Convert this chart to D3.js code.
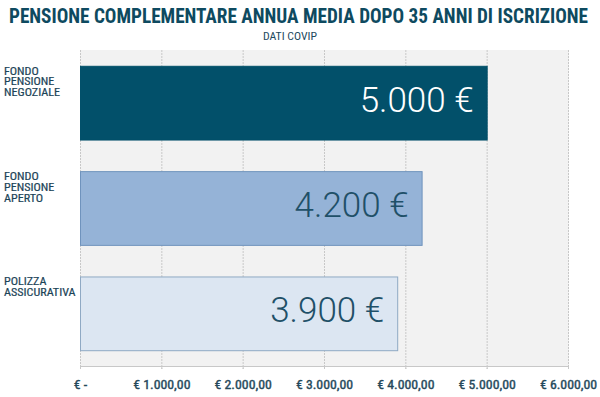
<!DOCTYPE html>
<html><head><meta charset="utf-8">
<script src="https://cdn.jsdelivr.net/npm/d3@7"></script>
<style>
html,body{margin:0;padding:0;background:#fff;}
svg{display:block;}
.cond{font-family:"Liberation Sans Narrow","Roboto Condensed","DejaVu Sans",sans-serif;font-stretch:condensed;}
</style></head>
<body>
<svg id="chart" width="600" height="397"></svg>
<script>
const categories = [["FONDO","PENSIONE","NEGOZIALE"],["FONDO","PENSIONE","APERTO"],["POLIZZA","ASSICURATIVA"]];
const values = [5000, 4200, 3900];
const valueLabels = ["5.000 €", "4.200 €", "3.900 €"];
const tickValues = [0, 1000, 2000, 3000, 4000, 5000, 6000];
const tickLabels = ["€ -", "€ 1.000,00", "€ 2.000,00", "€ 3.000,00", "€ 4.000,00", "€ 5.000,00", "€ 6.000,00"];
const barColors = ["#02506a", "#95b3d7", "#dce6f2"];
const textColors = ["#ffffff", "#1f5068", "#1f5068"];
const strokeColors = ["#02506a", "#6f93bd", "#8fa9c4"];

const svg = d3.select("#chart");
const mLeft = 80, mRight = 568, mTop = 50, mBottom = 366;
const x = d3.scaleLinear().domain([0, 6000]).range([mLeft, mRight]);
const y = d3.scaleBand().domain(d3.range(values.length)).range([mTop, mBottom]).paddingInner(0.3).paddingOuter(0.15);

function widen(sel, f) {
  sel.each(function() {
    const w = this.getComputedTextLength();
    d3.select(this).attr("textLength", w * f).attr("lengthAdjust", "spacingAndGlyphs");
  });
}

// title
svg.append("text").attr("class","cond").attr("x",9).attr("y",23)
  .attr("textLength",579).attr("lengthAdjust","spacingAndGlyphs")
  .attr("font-size",20).attr("font-weight","bold").attr("fill","#0e4a60")
  .text("PENSIONE COMPLEMENTARE ANNUA MEDIA DOPO 35 ANNI DI ISCRIZIONE");
svg.append("text").attr("class","cond").attr("x",263).attr("y",40)
  .attr("textLength",54).attr("lengthAdjust","spacingAndGlyphs")
  .attr("font-size",11.5).attr("fill","#1e4a5e")
  .text("DATI COVIP");

// plot background
svg.append("rect").attr("x",mLeft).attr("y",mTop).attr("width",mRight-mLeft+1).attr("height",mBottom-mTop).attr("fill","#f2f2f2");

// gridlines
svg.append("g").selectAll("line").data(tickValues).join("line")
  .attr("x1",d=>x(d)+0.5).attr("x2",d=>x(d)+0.5).attr("y1",mTop).attr("y2",mBottom+3)
  .attr("stroke","#c8c8c8").attr("stroke-width",1).attr("stroke-dasharray","2,1");

// axis
const axis = d3.axisBottom(x).tickValues(tickValues).tickFormat((d,i)=>tickLabels[i]).tickSize(3).tickPadding(11);
const ag = svg.append("g").attr("transform",`translate(0,${mBottom})`).call(axis);
ag.attr("font-family",null).attr("font-size",null);
ag.select(".domain").attr("stroke","#c8c8c8");
ag.selectAll(".tick line").attr("stroke","#c8c8c8");
const tt = ag.selectAll(".tick text").attr("class","cond").attr("font-size",12).attr("fill","#24485a")
  .attr("stroke","#24485a").attr("stroke-width",0.35);
widen(tt, 1.15);

// bars
svg.append("g").selectAll("rect").data(values).join("rect")
  .attr("x",x(0)+0.5).attr("y",(d,i)=>y(i)+0.5)
  .attr("width",d=>x(d)-x(0)).attr("height",y.bandwidth())
  .attr("fill",(d,i)=>barColors[i]).attr("stroke",(d,i)=>strokeColors[i]).attr("stroke-width",1);

// value labels
svg.append("g").selectAll("text").data(values).join("text")
  .attr("x",d=>x(d)-13).attr("y",(d,i)=>y(i)+y.bandwidth()/2+9)
  .attr("text-anchor","end").attr("font-family","Roboto, 'Open Sans', sans-serif")
  .attr("font-weight",300).attr("font-size",35).attr("fill",(d,i)=>textColors[i])
  .text((d,i)=>valueLabels[i]);

// category labels
const cg = svg.append("g").selectAll("g").data(categories).join("g")
  .attr("transform",(d,i)=>`translate(4,${y(i)+9})`);
const lines = cg.selectAll("text").data(d=>d).join("text")
  .attr("class","cond").attr("font-size",11).attr("fill","#1c4458")
  .attr("stroke","#1c4458").attr("stroke-width",0.2)
  .attr("x",0).attr("y",(d,j)=>j*10.7).text(d=>d);
widen(lines, 1.1);
</script>
</body></html>
